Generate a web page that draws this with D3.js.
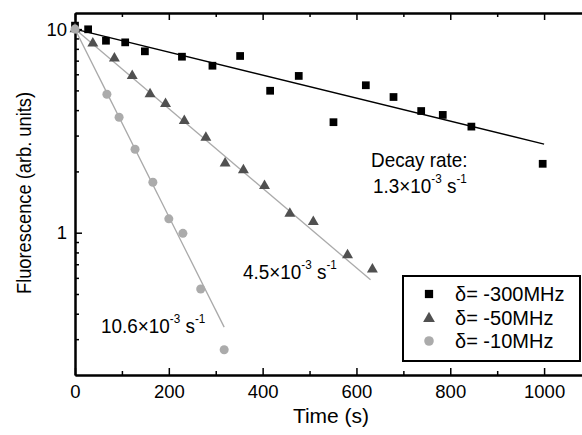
<!DOCTYPE html>
<html>
<head>
<meta charset="utf-8">
<script src="https://cdn.jsdelivr.net/npm/d3@7"></script>
<style>
  body { margin: 0; background: #fff; }
  svg text { font-family: Arial, Helvetica, "Liberation Sans", sans-serif; fill: #000; }
</style>
</head>
<body>
<div id="chart"></div>
<script>
// -300 MHz (squares)
const tSquare = [0, 28, 66, 107, 149, 228, 293, 352, 416, 477, 551, 620, 679, 738, 784, 845, 997];
const vSquare = [10.4, 9.98, 8.77, 8.61, 7.78, 7.32, 6.61, 7.38, 4.98, 5.89, 3.49, 5.30, 4.64, 3.96, 3.79, 3.32, 2.18];
// -50 MHz (triangles)
const tTri = [0, 38, 84, 122, 160, 193, 233, 279, 320, 359, 404, 458, 508, 581, 634];
const vTri = [10, 8.52, 7.19, 5.89, 4.80, 4.29, 3.54, 2.93, 2.19, 2.03, 1.70, 1.24, 1.13, 0.777, 0.661];
// -10 MHz (circles)
const tCirc = [0, 68, 94, 128, 166, 200, 230, 268, 318];
const vCirc = [10, 4.79, 3.69, 2.57, 1.77, 1.17, 0.993, 0.529, 0.266];

// exponential fits: rate (1/s) and fit range end (s)
const fitRates = [1.3e-3, 4.5e-3, 10.6e-3];
const fitEnds = [1000, 630, 318];
const fitAmp = 10;

const legendLabels = ["\u03b4= -300MHz", "\u03b4= -50MHz", "\u03b4= -10MHz"];
const xMajor = [0, 200, 400, 600, 800, 1000];
const xMinor = [100, 300, 500, 700, 900, 1100];
const yMajor = [1, 10];
const yMinor = [0.3, 0.4, 0.5, 0.6, 0.7, 0.8, 0.9, 2, 3, 4, 5, 6, 7, 8, 9];

const W = 582, H = 435;
const margin = { top: 13, left: 75, bottom: 60 };
const plotRight = 591;   // right frame sits just outside the picture
const FONT = "Arial, Helvetica, 'Liberation Sans', sans-serif";

const svg = d3.select("#chart").append("svg")
    .attr("width", W)
    .attr("height", H)
    .attr("font-family", FONT);

const x = d3.scaleLinear().domain([0, 1100]).range([margin.left, plotRight]);
const y = d3.scaleLog().domain([0.2, 12]).range([H - margin.bottom, margin.top]);

const colors = ["#000000", "#505050", "#ababab"];
const lineColors = ["#000000", "#aaaaaa", "#aaaaaa"];
const symbols = [d3.symbolSquare, d3.symbolTriangle, d3.symbolCircle];
const symSizes = [60, 52, 64];

// axes (ticks pointing inward)
function styleAxis(g) {
    g.attr("font-family", FONT);
    g.select(".domain").attr("stroke-width", 2);
    g.selectAll(".tick line").attr("stroke-width", 1.5);
    g.selectAll(".tick text").style("font-size", "18.5px");
}

svg.append("g")
    .attr("transform", `translate(0,${y.range()[0]})`)
    .call(d3.axisBottom(x).tickValues(xMajor).tickSize(-7).tickSizeOuter(0).tickPadding(10).tickFormat(d3.format("d")))
    .call(styleAxis);
svg.append("g")
    .attr("transform", `translate(0,${y.range()[0]})`)
    .call(d3.axisBottom(x).tickValues(xMinor).tickSize(-4).tickSizeOuter(0).tickFormat(""))
    .call(styleAxis);
svg.append("g")
    .attr("transform", `translate(0,${margin.top})`)
    .call(d3.axisTop(x).tickValues(xMajor).tickSize(-7).tickSizeOuter(0).tickFormat(""))
    .call(styleAxis);
svg.append("g")
    .attr("transform", `translate(0,${margin.top})`)
    .call(d3.axisTop(x).tickValues(xMinor).tickSize(-4).tickSizeOuter(0).tickFormat(""))
    .call(styleAxis);
svg.append("g")
    .attr("transform", `translate(${margin.left},0)`)
    .call(d3.axisLeft(y).tickValues(yMajor).tickSize(-7).tickSizeOuter(0).tickPadding(8).tickFormat(d3.format("d")))
    .call(styleAxis);
svg.append("g")
    .attr("transform", `translate(${margin.left},0)`)
    .call(d3.axisLeft(y).tickValues(yMinor).tickSize(-4).tickSizeOuter(0).tickFormat(""))
    .call(styleAxis);

// axis titles
svg.append("text")
    .attr("x", (margin.left + plotRight) / 2 - 2)
    .attr("y", 423)
    .attr("text-anchor", "middle")
    .style("font-size", "21px")
    .text("Time (s)");

svg.append("text")
    .attr("transform", `translate(31,${(margin.top + y.range()[0]) / 2 - 1}) rotate(-90)`)
    .attr("text-anchor", "middle")
    .attr("textLength", 202)
    .attr("lengthAdjust", "spacingAndGlyphs")
    .style("font-size", "21px")
    .text("Fluorescence (arb. units)");

// fit lines
const fitLine = d3.line().x(d => x(d[0])).y(d => y(d[1]));
fitRates.forEach((k, i) => {
    const pts = [[0, fitAmp], [fitEnds[i], fitAmp * Math.exp(-k * fitEnds[i])]];
    svg.append("path")
        .attr("d", fitLine(pts))
        .attr("fill", "none")
        .attr("stroke", lineColors[i])
        .attr("stroke-width", 1.3);
});

// markers
const series = [
    tSquare.map((t, j) => [t, vSquare[j]]),
    tTri.map((t, j) => [t, vTri[j]]),
    tCirc.map((t, j) => [t, vCirc[j]])
];
series.forEach((data, i) => {
    svg.append("g").selectAll("path")
        .data(data)
        .join("path")
        .attr("transform", d => `translate(${x(d[0])},${y(d[1])})`)
        .attr("d", d3.symbol(symbols[i], symSizes[i]))
        .attr("fill", colors[i]);
});

// rate annotations
function rateLabel(px, py, mantissa, sx) {
    const t = svg.append("text")
        .attr("transform", `translate(${px},${py}) scale(${sx},1)`)
        .style("font-size", "21px");
    t.append("tspan").text(mantissa + "\u00d710");
    t.append("tspan").attr("dy", -10).style("font-size", "13px").text("-3");
    t.append("tspan").attr("dy", 10).text(" s");
    t.append("tspan").attr("dy", -10).style("font-size", "13px").text("-1");
}

svg.append("text")
    .attr("transform", "translate(371,167) scale(0.9,1)")
    .style("font-size", "21px")
    .text("Decay rate:");
rateLabel(373, 193, "1.3", 0.9);
rateLabel(243, 279, "4.5", 0.9);
rateLabel(101, 333, "10.6", 0.9);

// legend
const legend = svg.append("g");
legend.append("rect")
    .attr("x", 403).attr("y", 276)
    .attr("width", 177).attr("height", 85)
    .attr("fill", "#fff")
    .attr("stroke", "#000")
    .attr("stroke-width", 2);
const rowsY = [294, 318.5, 341];
legendLabels.forEach((lab, i) => {
    legend.append("path")
        .attr("transform", `translate(429,${rowsY[i]})`)
        .attr("d", d3.symbol(symbols[i], symSizes[i] + 8))
        .attr("fill", colors[i]);
    legend.append("text")
        .attr("x", 455)
        .attr("y", rowsY[i] + 6.5)
        .style("font-size", "20px")
        .text(lab);
});
</script>
</body>
</html>
